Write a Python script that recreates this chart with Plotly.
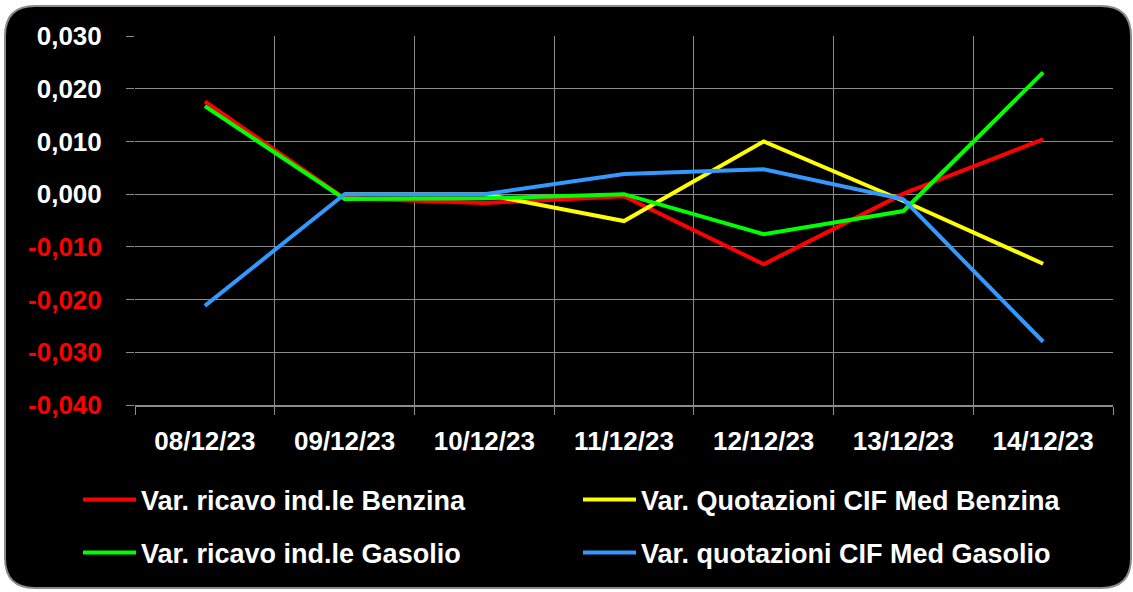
import plotly.graph_objects as go

dates = ["08/12/23", "09/12/23", "10/12/23", "11/12/23", "12/12/23", "13/12/23", "14/12/23"]
ricavo_benzina = [0.0176, -0.0008, -0.0017, -0.0004, -0.0133, 0.0001, 0.0104]
quot_benzina = [None, 0.0000, 0.0000, -0.0051, 0.0100, -0.0013, -0.0132]
ricavo_gasolio = [0.0167, -0.0009, -0.0008, 0.0000, -0.0076, -0.0032, 0.0231]
quot_gasolio = [-0.0212, 0.0000, 0.0000, 0.0038, 0.0047, -0.0010, -0.0280]

names = ["Var. ricavo ind.le Benzina", "Var. Quotazioni CIF Med Benzina",
         "Var. ricavo ind.le Gasolio", "Var. quotazioni CIF Med Gasolio"]
colors = ["#FF0000", "#FFFF00", "#00FF00", "#3399FF"]
series = [ricavo_benzina, quot_benzina, ricavo_gasolio, quot_gasolio]
legend_ids = ["legend", "legend2", "legend3", "legend4"]
# legend entry anchor positions (pixels): left x of the line, middle y of the row
legend_pos = [(78, 500), (578, 500), (78, 553), (578, 553)]

y_ticks = [0.03, 0.02, 0.01, 0.0, -0.01, -0.02, -0.03, -0.04]
y_labels = ["0,030", "0,020", "0,010", "0,000", "-0,010", "-0,020", "-0,030", "-0,040"]

W, H = 1133, 592
L, R, T, B = 135, 1113, 36, 405

fig = go.Figure()
for name, col, ys, lg in zip(names, colors, series, legend_ids):
    fig.add_trace(go.Scatter(x=dates, y=ys, mode="lines", name=name, legend=lg,
                             line=dict(color=col, width=4)))

ticktext = [f'<span style="color:#FF0000">{t}</span>' if v < 0 else t for v, t in zip(y_ticks, y_labels)]


def px_x(p):
    return (p - L) / (R - L)


def px_y(p):
    return (B - p) / (B - T)


x0, x1, y0, y1, r = 5, 1131, 6, 588, 30
path = (f"M {px_x(x0 + r)} {px_y(y0)} L {px_x(x1 - r)} {px_y(y0)} "
        f"Q {px_x(x1)} {px_y(y0)} {px_x(x1)} {px_y(y0 + r)} "
        f"L {px_x(x1)} {px_y(y1 - r)} Q {px_x(x1)} {px_y(y1)} {px_x(x1 - r)} {px_y(y1)} "
        f"L {px_x(x0 + r)} {px_y(y1)} Q {px_x(x0)} {px_y(y1)} {px_x(x0)} {px_y(y1 - r)} "
        f"L {px_x(x0)} {px_y(y0 + r)} Q {px_x(x0)} {px_y(y0)} {px_x(x0 + r)} {px_y(y0)} Z")

font_main = "Liberation Sans, Arial, sans-serif"
legend_layout = {}
for lg, (lx, ly) in zip(legend_ids, legend_pos):
    legend_layout[lg] = dict(orientation="h", xref="container", yref="container",
                             x=lx / W, y=1 - ly / H, xanchor="left", yanchor="middle",
                             bgcolor="rgba(0,0,0,0)",
                             font=dict(family=font_main, size=27, color="white", weight="bold"),
                             itemwidth=53, itemclick=False, itemdoubleclick=False)

fig.update_layout(
    width=W, height=H,
    margin=dict(l=L, r=W - R, t=T, b=H - B, autoexpand=False),
    paper_bgcolor="white", plot_bgcolor="black",
    showlegend=True,
    shapes=[dict(type="path", path=path, xref="paper", yref="paper", layer="below",
                 fillcolor="black", line=dict(color="#8a8a8a", width=2))],
    xaxis=dict(type="category", range=[-0.5, 6.5], tickson="boundaries",
               showgrid=True, gridcolor="#8c8c8c", gridwidth=1,
               ticks="outside", ticklen=8, tickcolor="#8c8c8c",
               showline=True, linecolor="#8c8c8c", linewidth=2,
               tickfont=dict(family=font_main, size=26, color="white", weight="bold"),
               ticklabelstandoff=12, fixedrange=True),
    yaxis=dict(range=[-0.04, 0.03], tickvals=y_ticks, ticktext=ticktext,
               showgrid=True, gridcolor="#8c8c8c", gridwidth=1, zeroline=False,
               ticks="outside", ticklen=8, tickcolor="#8c8c8c",
               tickfont=dict(family=font_main, size=26, color="white", weight="bold"),
               ticklabelstandoff=19, fixedrange=True),
    **legend_layout,
)

fig.write_html("out.html", config={"displayModeBar": False},
               post_script="document.body.style.margin='0px';")
